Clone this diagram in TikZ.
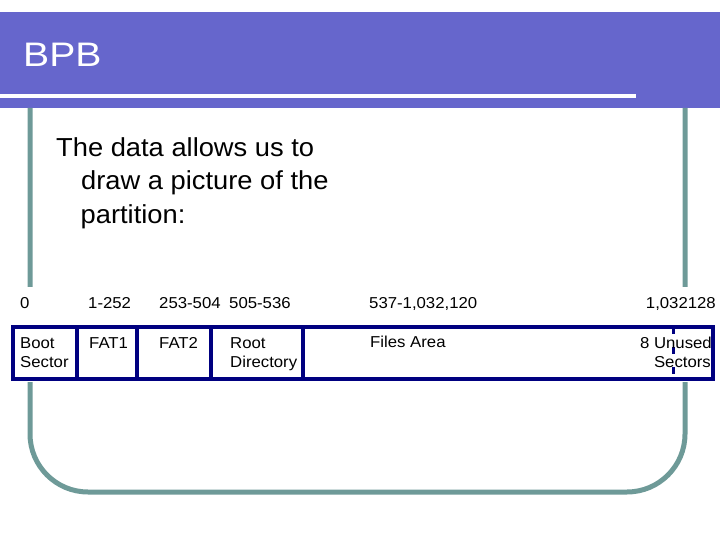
\documentclass[tikz,border=0pt]{standalone}
\usepackage{fontspec}
\setmainfont{Liberation Sans}
\newfontfamily\titlefont[FakeStretch=1.15]{Liberation Sans}
\newfontfamily\bodyfont[FakeStretch=1.05]{Liberation Sans}
\newfontfamily\smallfont[FakeStretch=1.06]{Liberation Sans}
\usetikzlibrary{positioning}
\definecolor{titleblue}{HTML}{6666CC}
\definecolor{frameteal}{HTML}{6E9A98}
\definecolor{boxnavy}{HTML}{000080}

\begin{document}
\begin{tikzpicture}[x=1pt, y=-1pt]

		\tikzstyle{bodytext} = [anchor=base west, inner sep=0pt, font=\bodyfont\fontsize{26}{33}\selectfont]
		\tikzstyle{rowtext} = [anchor=base west, inner sep=0pt, font=\smallfont\fontsize{15.8}{19}\selectfont]
		\tikzstyle{celltext} = [anchor=base west, inner sep=0pt, font=\smallfont\fontsize{15.8}{19}\selectfont]
		\tikzstyle{divider} = [boxnavy, line width=3.5pt]

		\useasboundingbox (0,0) rectangle (720,540);

		\fill[titleblue] (0,12) rectangle (720,108);
		\draw[white, line width=4pt] (0,96) -- (636,96);
		\node[anchor=base west, inner sep=0pt, text=white, font=\titlefont\fontsize{34}{40}\selectfont] (title) at (23,67) {BPB};

		\draw[frameteal, line width=5pt, rounded corners=58pt] (30,108) -- (30,492) -- (685,492) -- (685,108);
		\fill[white] (0,287) rectangle (720,382);

		\node[bodytext] (line1) at (56,157) {The data allows us to};
		\node[bodytext] (line2) at (81,190) {draw a picture of the};
		\node[bodytext] (line3) at (80.5,223) {partition:};

		\node[rowtext] (s0) at (20,308) {0};
		\node[rowtext] (s1) at (88,308) {1-252};
		\node[rowtext] (s2) at (159,308) {253-504};
		\node[rowtext] (s3) at (229,308) {505-536};
		\node[rowtext] (s4) at (369,308) {537-1,032,120};
		\node[rowtext, anchor=base east] (s5) at (716,308) {1,032128};

		\draw[divider] (13,327) rectangle (713,379);
		\draw[divider] (77,327) -- (77,379);
		\draw[divider] (137,327) -- (137,379);
		\draw[divider] (211,327) -- (211,379);
		\draw[divider] (303,327) -- (303,379);
		\draw[boxnavy, line width=3pt, dash pattern=on 7pt off 13pt] (673,327) -- (673,379);

		\node[celltext] (boot) at (20,348) {Boot};
		\node[celltext] (sector) at (20,367) {Sector};
		\node[celltext] (fat1) at (89,348) {FAT1};
		\node[celltext] (fat2) at (159,348) {FAT2};
		\node[celltext] (root) at (230,348) {Root};
		\node[celltext] (rootdir) at (230,367) {Directory};
		\node[celltext] (files) at (370,347) {Files Area};
		\node[celltext, anchor=base east] (unused) at (712,348) {8 Unused};
		\node[celltext, anchor=base east] (sectors) at (711,367) {Sectors};

\end{tikzpicture}
\end{document}
